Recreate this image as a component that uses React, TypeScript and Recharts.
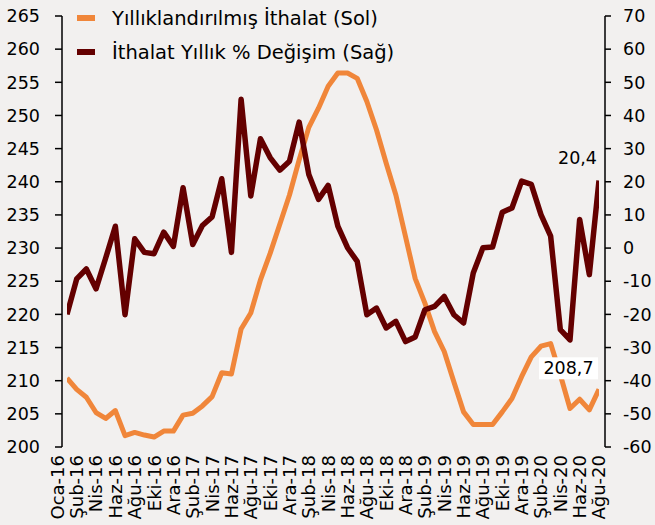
import React from 'react';
import { ComposedChart, Line, XAxis, YAxis } from 'recharts';

const categories = [
  'Oca-16','Şub-16','Mar-16','Nis-16','May-16','Haz-16','Tem-16','Ağu-16','Eyl-16','Eki-16','Kas-16','Ara-16',
  'Oca-17','Şub-17','Mar-17','Nis-17','May-17','Haz-17','Tem-17','Ağu-17','Eyl-17','Eki-17','Kas-17','Ara-17',
  'Oca-18','Şub-18','Mar-18','Nis-18','May-18','Haz-18','Tem-18','Ağu-18','Eyl-18','Eki-18','Kas-18','Ara-18',
  'Oca-19','Şub-19','Mar-19','Nis-19','May-19','Haz-19','Tem-19','Ağu-19','Eyl-19','Eki-19','Kas-19','Ara-19',
  'Oca-20','Şub-20','Mar-20','Nis-20','May-20','Haz-20','Tem-20','Ağu-20',
];

const annualizedImports = [
  210.4, 208.7, 207.5, 205.2, 204.3, 205.5, 201.7, 202.2, 201.8, 201.5,
  202.4, 202.4, 204.8, 205.1, 206.2, 207.6, 211.2, 211.0, 217.8, 220.2,
  225.2, 229.2, 233.6, 238.0, 243.3, 248.2, 251.1, 254.4, 256.4, 256.4,
  255.6, 252.1, 247.8, 242.8, 238.0, 231.7, 225.4, 221.7, 217.4, 214.4,
  209.8, 205.3, 203.4, 203.4, 203.4, 205.3, 207.3, 210.6, 213.6, 215.2,
  215.6, 210.9, 205.8, 207.2, 205.6, 208.7,
];

const yearlyChange = [
  -20, -9.3, -6.3, -12.3, -3.0, 6.6, -20.1, 2.8, -1.3, -1.7,
  4.8, 0.5, 18.2, 1.1, 6.8, 9.4, 20.9, -1.3, 44.9, 15.7,
  33.0, 27.3, 23.5, 26.2, 38.0, 22.2, 14.7, 18.9, 6.6, 0.1,
  -4.0, -20.1, -18.1, -24.1, -22.1, -28.2, -26.8, -18.6, -17.6, -14.6,
  -20.1, -22.6, -7.5, 0.1, 0.3, 10.8, 12.1, 20.2, 19.2, 10.1,
  3.6, -24.6, -27.7, 8.6, -8.0, 20.4,
];

const xTickPositions = [-1, 1, 3, 5, 7, 9, 11, 13, 15, 17, 19, 21, 23, 25, 27, 29, 31, 33, 35, 37, 39, 41, 43, 45, 47, 49, 51, 53, 55];
const xTickLabels = [
  'Oca-16','Şub-16','Nis-16','Haz-16','Ağu-16','Eki-16','Ara-16',
  'Şub-17','Nis-17','Haz-17','Ağu-17','Eki-17','Ara-17',
  'Şub-18','Nis-18','Haz-18','Ağu-18','Eki-18','Ara-18',
  'Şub-19','Nis-19','Haz-19','Ağu-19','Eki-19','Ara-19',
  'Şub-20','Nis-20','Haz-20','Ağu-20',
];

const leftTicks = [200, 205, 210, 215, 220, 225, 230, 235, 240, 245, 250, 255, 260, 265];
const rightTicks = [-60, -50, -40, -30, -20, -10, 0, 10, 20, 30, 40, 50, 60, 70];

const seriesNames = ['Yıllıklandırılmış İthalat (Sol)', 'İthalat Yıllık % Değişim (Sağ)'];
const lastImportLabel = '208,7';
const lastChangeLabel = '20,4';

const ORANGE = '#F0863A';
const DARK = '#640000';
const FONT = "'DejaVu Sans', sans-serif";

const data = categories.map((c, i) => ({
  i,
  cat: c,
  imp: annualizedImports[i],
  chg: yearlyChange[i],
}));

const XTick = (props: any) => {
  const { x, y, payload } = props;
  const idx = xTickPositions.indexOf(payload.value);
  const label = idx >= 0 ? xTickLabels[idx] : '';
  return (
    <text
      x={x}
      y={y}
      transform={`rotate(-90, ${x}, ${y})`}
      textAnchor="end"
      dy="0.36em"
      fontSize={18}
      fontFamily={FONT}
      fill="#000"
    >
      {label}
    </text>
  );
};

const ImpLabel = (props: any) => {
  const { x, y, index } = props;
  if (index !== annualizedImports.length - 1) return null;
  return (
    <g>
      <rect x={x - 60} y={y - 32} width={59} height={22} fill="#fff" />
      <text x={x - 30.5} y={y - 21} textAnchor="middle" dominantBaseline="central" fontSize={17.5} fontFamily={FONT} fill="#000">
        {lastImportLabel}
      </text>
    </g>
  );
};

const ChgLabel = (props: any) => {
  const { x, y, index } = props;
  if (index !== yearlyChange.length - 1) return null;
  return (
    <text x={x - 2} y={y - 22} textAnchor="end" dominantBaseline="central" fontSize={17.5} fontFamily={FONT} fill="#000">
      {lastChangeLabel}
    </text>
  );
};

const LegendBox = () => (
  <div style={{ position: 'absolute', left: 77, top: 1, fontFamily: FONT, fontSize: 19.5, color: '#000' }}>
    {[ORANGE, DARK].map((col, k) => (
      <div key={k} style={{ display: 'flex', alignItems: 'center', height: 34 }}>
        <div style={{ width: 18, height: 6, background: col, marginRight: 17 }} />
        <span style={{ whiteSpace: 'nowrap' }}>{seriesNames[k]}</span>
      </div>
    ))}
  </div>
);

export default function App() {
  return (
    <div style={{ position: 'absolute', left: 0, top: 0, width: 655, height: 525, background: '#F2F0EF' }}>
      <ComposedChart width={655} height={525} data={data} margin={{ top: 16, right: 0, bottom: 0, left: 0 }}>
        <XAxis
          dataKey="i"
          type="number"
          domain={[0, 55]}
          ticks={xTickPositions}
          interval={0}
          allowDataOverflow
          tick={<XTick />}
          tickLine={false}
          axisLine={false}
          height={78}
          padding={{ left: 5, right: 6 }}
        />
        <YAxis
          yAxisId="left"
          orientation="left"
          domain={[200, 265]}
          ticks={leftTicks}
          interval={0}
          width={62}
          tickSize={7}
          tickMargin={15}
          tick={{ fontSize: 17.5, fontFamily: FONT, fill: '#000' }}
          axisLine={{ stroke: '#000', strokeWidth: 1.5 }}
          tickLine={{ stroke: '#000', strokeWidth: 1.5 }}
        />
        <YAxis
          yAxisId="right"
          orientation="right"
          domain={[-60, 70]}
          ticks={rightTicks}
          interval={0}
          width={50}
          tickSize={6}
          tickMargin={12}
          tick={{ fontSize: 17.5, fontFamily: FONT, fill: '#000' }}
          axisLine={{ stroke: '#000', strokeWidth: 1.5 }}
          tickLine={{ stroke: '#000', strokeWidth: 1.5 }}
        />
        <Line
          yAxisId="left"
          dataKey="imp"
          stroke={ORANGE}
          strokeWidth={5}
          dot={false}
          isAnimationActive={false}
          strokeLinejoin="round"
          label={<ImpLabel />}
        />
        <Line
          yAxisId="right"
          dataKey="chg"
          stroke={DARK}
          strokeWidth={5.5}
          dot={false}
          isAnimationActive={false}
          strokeLinejoin="round"
          label={<ChgLabel />}
        />
      </ComposedChart>
      <LegendBox />
    </div>
  );
}
